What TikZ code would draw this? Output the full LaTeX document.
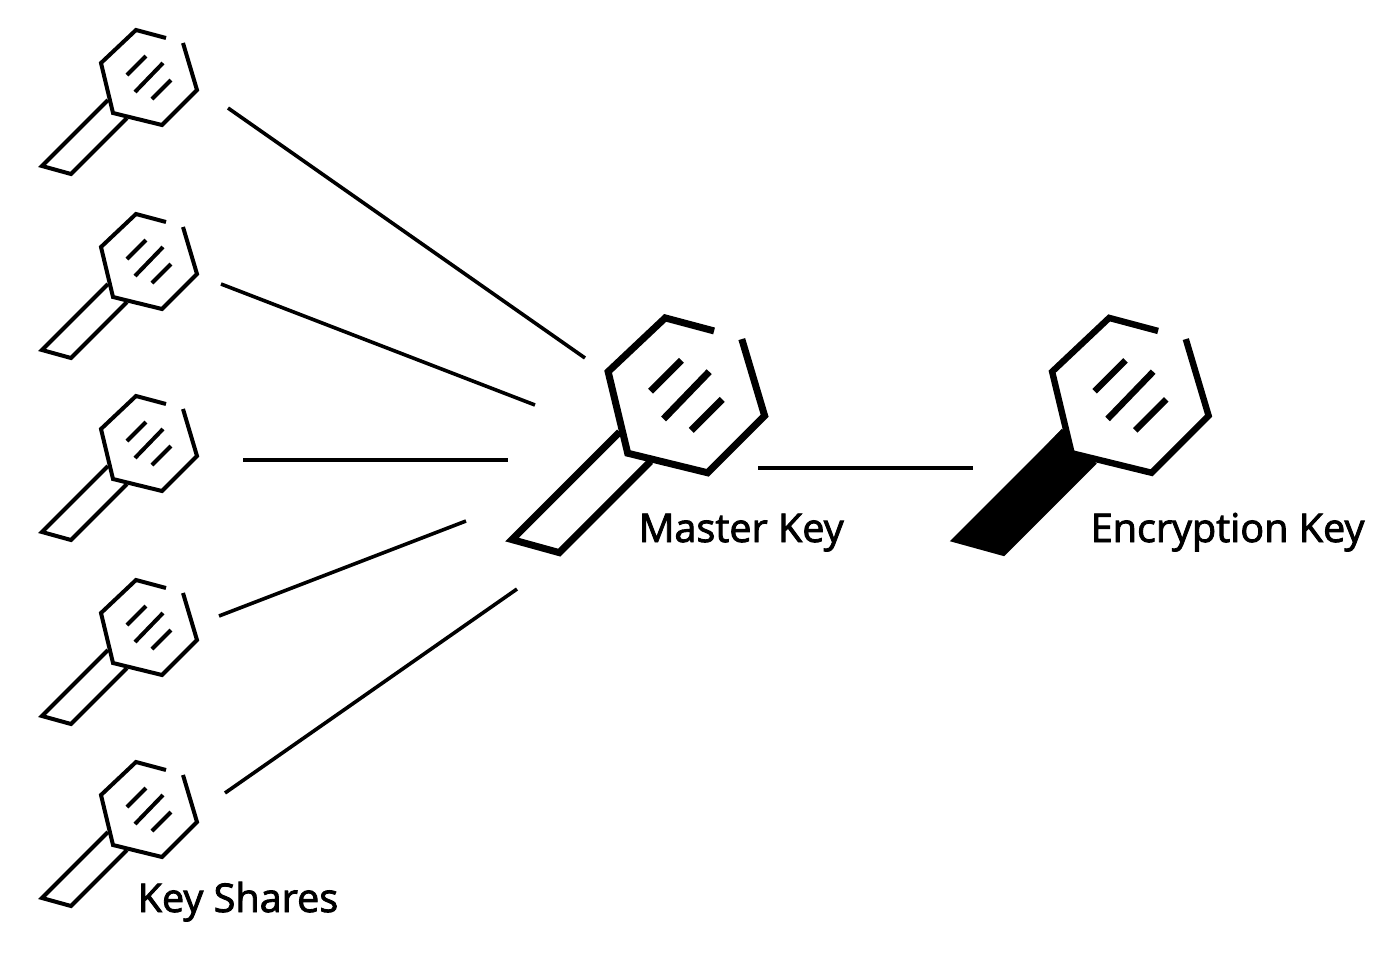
\documentclass[tikz,border=0pt]{standalone}
\usepackage{fontspec}
\setmainfont{Open Sans}
\newfontfamily\keyfont[FakeBold=2.2]{Open Sans}
\usetikzlibrary{positioning}
\tikzset{
  key-label/.style={font=\keyfont\fontsize{39.6}{46}\selectfont,inner sep=0pt,anchor=base west},
  link/.style={draw=black,line width=3.6pt},
  key-stroke/.style={draw=black,line width=4pt},
  key-fill/.style={fill=none},
  pics/key-icon/.style={code={
    \path[key-fill] (107,98) -- (42,166) -- (71,174) -- (127,118) -- cycle;
    \draw[key-stroke] (108,100) -- (42,166) -- (71,174) -- (127,118);
    \draw[key-stroke,fill=white] (183,43) -- (197,90) -- (162,125) -- (113,113) -- (101,63) -- (136,30) -- (166,38);
    \draw[key-stroke] (146,56) -- (127,75);
    \draw[key-stroke] (163,63) -- (135,92);
    \draw[key-stroke] (171,80) -- (152,99);
  }},
}
\begin{document}
\begin{tikzpicture}[x=1pt,y=-1pt]
  \useasboundingbox (0,0) rectangle (1400,959);
  % key shares
  \foreach \i/\dy in {a/0,b/184,c/366,d/550,e/732}
    \pic (share-\i) at (0,\dy) {key-icon};
  % master and encryption key
  \pic[scale=1.63,key-stroke/.append style={line width=7pt}] (master) at (443.5,269) {key-icon};
  \pic[scale=1.63,key-stroke/.append style={line width=6.4pt},key-fill/.style={fill=black}] (enc) at (887.5,269) {key-icon};
  \node[key-label] (lbl-shares) at (137.5,912) {Key Shares};
  \node[key-label] (lbl-master) at (638.5,542) {Master Key};
  \node[key-label] (lbl-enc) at (1090.5,542) {Encryption Key};
  % free ends of the links
  \coordinate (a1) at (228,108);  \coordinate (a2) at (585,358);
  \coordinate (b1) at (221,284);  \coordinate (b2) at (535,405);
  \coordinate (c1) at (243,460);  \coordinate (c2) at (508,460);
  \coordinate (d1) at (219,616);  \coordinate (d2) at (466,521);
  \coordinate (e1) at (225,793);  \coordinate (e2) at (517,589);
  \coordinate (m1) at (758,468);  \coordinate (m2) at (973,468);
  \foreach \i in {a,b,c,d,e,m}
    \draw[link] (\i1) -- (\i2);
\end{tikzpicture}
\end{document}
